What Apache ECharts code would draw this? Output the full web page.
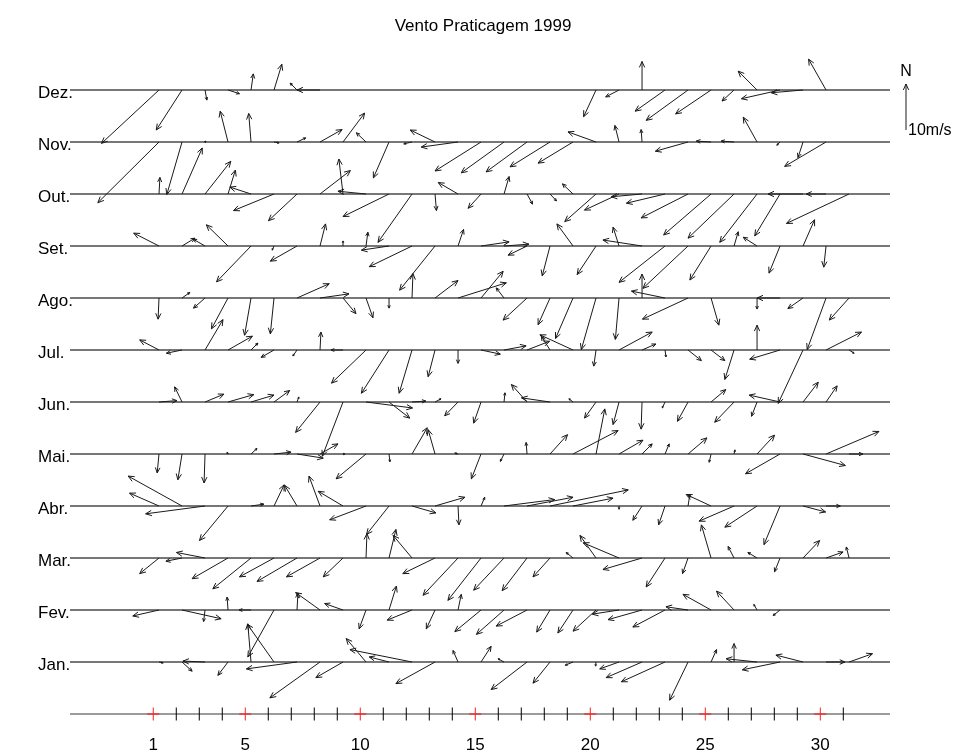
<!DOCTYPE html>
<html><head><meta charset="utf-8">
<script src="https://cdn.jsdelivr.net/npm/echarts@6/dist/echarts.min.js"></script>
<style>html,body{margin:0;padding:0;background:#fff}#c{width:966px;height:755px}</style>
</head><body><div id="c"></div>
<script>
// ---- labels ----
const monthLabels = ['Jan.','Fev.','Mar.','Abr.','Mai.','Jun.','Jul.','Ago.','Set.','Out.','Nov.','Dez.'];
const dayTicks = [1,2,3,4,5,6,7,8,9,10,11,12,13,14,15,16,17,18,19,20,21,22,23,24,25,26,27,28,29,30,31];
const labeledDays = [1,5,10,15,20,25,30];
const titleText = 'Vento Praticagem 1999';
const scaleLabel = '10m/s';
const scaleSpeed = 10; // m/s

// ---- wind components (m/s), u = eastward, v = northward, one value per day ----
const u_jan = [0.9,2.2,-4.8,-2.2,-0.7,-5.8,-11.0,-10.9,-5.9,-4.3,-4.3,-13.5,-8.5,-1.1,2.2,-1.3,-7.8,-3.7,-1.7,-0.1,-4.2,-7.8,-9.5,-4.0,1.2,0,-6.7,-8.2,-5.9,4.1,5.1];
const v_jan = [-0.2,-2.0,0.2,-2.9,8.3,8.2,-1.5,-7.8,-3.4,5.1,1.1,2.7,-4.7,2.5,3.4,0.7,-6.0,-4.6,-0.7,-0.9,-1.5,-3.4,-4.3,-8.3,2.7,4.0,0.7,-1.7,1.5,0,1.8];
const u_fev = [-5.7,8.5,-0.3,-0.2,-2.6,-5.7,0.2,-5.3,-4.0,-1.5,1.6,-5.4,-1.9,0.7,-5.7,-6.0,-6.7,-2.9,-3.3,-5.0,-5.8,-7.4,-7.0,-4.8,-6.1,-3.8,-0.7,-1.5];
const v_fev = [-1.3,-1.9,-2.5,2.8,0,-10.2,3.7,3.8,1.4,-4.1,5.2,-2.2,-4.1,3.4,-4.7,-5.3,-3.5,-4.8,-5.0,-4.6,-0.9,-2.1,-3.7,0.7,3.4,4.1,1.2,-1.2];
const u_mar = [-4.2,-3.5,-6.2,-7.8,-8.3,-7.5,-8.7,-7.3,-4.3,0.2,1.5,-4.1,-7.0,-7.6,-7.2,-6.6,-5.4,-3.7,-1.5,-3.5,-7.8,-8.5,-4.1,-1.2,-2.1,-1.3,-2.0,-1.2,3.6,3.7,-0.6];
const v_mar = [-3.4,-0.7,1.2,-4.5,-6.7,-4.1,-5.1,-4.1,-4.1,5.3,6.2,4.9,-3.4,-8.1,-9.2,-7.0,-7.1,-4.1,1.2,4.9,3.3,-2.5,-6.3,-3.4,7.2,2.5,1.2,-3.0,3.8,1.3,2.4];
const u_abr = [-6.4,-11.7,-12.9,-6.2,2.8,2.2,-2.7,-2.4,-5.4,-7.9,-4.9,5.2,6.5,0.2,0.8,11.0,10.0,17.0,8.7,null,0,-2.0,-1.4,0.4,-5.4,-7.6,-7.0,-3.5,4.9,3.1];
const v_abr = [2.8,6.5,-1.7,-7.5,0.4,4.6,4.5,6.5,3.2,-3.0,-6.2,-1.5,1.9,-4.1,1.9,1.4,1.9,3.5,1.7,null,-0.7,-3.1,-4.1,2.6,2.5,-3.3,-4.6,-8.4,-1.3,0];
const u_mai = [-0.4,-0.9,-0.2,-0.2,1.3,3.7,5.7,3.9,0.4,-6.5,0.2,3.3,-1.5,-0.7,-2.1,-0.8,-0.2,3.8,9.8,1.9,5.2,2.2,0.9,4.1,-0.4,0.2,3.8,-7.5,9.2,11.5,3.0];
const v_mai = [-4.1,-5.6,-6.3,0.4,1.2,0.4,-0.9,2.2,0,-5.4,-1.7,5.7,5.3,0.2,-5.4,-1.6,2.5,4.2,5.1,9.8,3.0,2.2,2.2,3.5,-1.8,0.9,4.1,-4.3,-2.5,4.9,0];
const u_jun = [3.9,-1.6,4.1,5.6,5.0,3.4,0.4,-5.3,-4.5,10.1,4.5,3.0,1.3,-2.9,-1.6,0.2,-3.4,-6.2,-0.9,-2.5,-1.3,-0.2,-0.6,-2.3,3.2,-4.2,-1.2,-6.7,3.3,2.4];
const v_jun = [0.3,3.3,1.7,1.6,1.5,2.5,1.1,-6.6,-11.8,-1.3,-3.5,0.2,0.7,-3.0,-4.6,2.0,3.8,0.9,0.7,-3.5,-4.9,-5.9,-1.3,-4.2,2.7,-4.4,-3.1,1.5,4.3,3.5];
const u_jul = [-4.2,-3.4,3.9,5.3,1.5,-2.8,-0.9,0.2,-2.6,-7.5,-6.0,-2.8,-1.5,0,4.2,4.8,4.9,-1.9,-7.2,-0.5,7.2,3.0,0.2,2.9,3.0,-2.0,0,-6.6,-5.4,7.7,1.1];
const v_jul = [2.2,-0.7,6.6,3.0,1.5,-1.6,-1.3,3.9,0,-7.2,-9.4,-9.4,-5.8,-2.9,-0.9,0.9,1.9,3.0,3.3,-3.5,3.9,1.3,-1.5,-2.3,-2.3,-6.4,5.4,-2.0,-11.6,3.9,-0.7];
const u_ago = [-0.2,1.7,-2.5,-3.6,-1.4,-0.8,7.0,6.3,2.8,1.5,0,0.2,5.0,10.5,4.8,-1.7,-5.2,-2.6,-3.8,-3.2,-0.8,0,-7.3,-9.9,1.7,null,0,-5.0,-3.3,-4.1,-4.3];
const v_ago = [-4.6,1.2,-2.2,-6.7,-8.1,-7.8,3.1,0.9,-3.4,-4.3,-2.2,5.3,3.8,3.3,5.8,2.2,-4.8,-5.8,-8.8,-11.2,-9.0,5.2,1.5,-4.6,-5.9,null,-2.4,0,-2.3,-11.2,-4.8];
const u_set = [-5.5,2.8,-2.6,-4.7,-7.5,-0.4,-5.8,1.2,0,0.4,-6.0,-9.3,-7.7,1.2,6.1,5.4,-4.1,-1.7,-3.5,-4.1,-1.3,-8.5,-10.0,-9.8,-4.6,0.9,-3.0,-2.4,2.5,-0.5];
const v_set = [2.8,1.7,1.5,4.6,-7.8,-0.9,-3.3,4.8,1.1,3.0,-0.9,-4.5,-9.6,3.6,0.9,0.4,-2.0,-6.5,4.8,-6.2,4.1,1.3,-7.9,-9.2,-7.4,3.1,1.9,-5.9,5.7,-4.6];
const u_out = [0.2,4.4,5.6,1.6,-4.6,-8.8,-6.2,6.6,-0.9,-6.1,-10.0,-7.4,0.3,-4.3,-2.8,1.1,1.2,1.4,-2.3,-6.8,-7.5,-6.7,-8.4,-10.2,-10.3,-10.0,-8.1,-5.5,-7.6,-4.3,-13.6];
const v_out = [3.6,10.0,7.1,5.2,1.5,-3.6,-5.8,5.1,7.6,0.6,-4.9,-10.5,-3.6,2.5,-3.1,3.8,-2.2,-1.5,2.2,-6.0,-3.5,-0.6,-2.0,-5.2,-8.9,-9.6,-10.5,-9.1,0,0,-6.4];
const u_nov = [-13.3,-3.3,0.2,-1.7,-0.5,1.1,1.9,4.8,4.7,-2.1,-3.4,-1.8,-5.4,-8.0,-10.0,-9.3,-8.9,-8.7,-7.6,-6.1,-0.9,-0.2,null,-7.1,-3.2,-2.8,-3.0,-0.7,-1.1,-9.0];
const v_nov = [-13.2,-11.4,0.2,6.7,6.2,-0.2,0.9,2.7,6.3,2.0,-7.8,-0.4,2.6,-1.1,-6.3,-6.7,-6.5,-5.4,-4.6,2.2,3.6,2.7,null,-2.0,0.2,0.2,5.4,-0.7,-3.4,-5.3];
const u_dez = [-12.5,-5.6,0.4,2.5,0.5,1.7,-1.5,-5.0,null,null,null,null,null,null,null,null,null,null,null,-2.7,-2.9,0,-6.5,-9.1,-7.7,-2.6,-4.1,-8.4,-6.9,-3.8,null];
const v_dez = [-11.6,-8.7,-2.2,-0.8,3.5,5.6,1.5,0,null,null,null,null,null,null,null,null,null,null,null,-5.8,-1.5,6.2,-4.6,-6.6,-5.2,-2.4,4.1,-1.9,-0.6,6.7,null];

const U = [u_jan,u_fev,u_mar,u_abr,u_mai,u_jun,u_jul,u_ago,u_set,u_out,u_nov,u_dez];
const V = [v_jan,v_fev,v_mar,v_abr,v_mai,v_jun,v_jul,v_ago,v_set,v_out,v_nov,v_dez];

// ---- layout / style constants ----
const X_MIN = -2.62, X_MAX = 33.03;      // day axis extent
const Y_MIN = 0, Y_MAX = 13.5;            // row 0 = day axis, rows 1..12 = months
const OBS_OFFSET = 0.25;                   // observation at 06h
const ROWS_PER_MS = 46 / 52 / 10;          // arrow scale: 10 m/s = 46/52 of a row spacing
const ARROW_COLOR = '#1a1a1a';
const FONT = '"Liberation Sans", Arial, sans-serif';
const FS = 17;

const windData = [];
U.forEach((us, m) => us.forEach((u, i) => {
  const v = V[m][i];
  if (u == null || v == null) return;
  windData.push([i + 1, m + 1, u, v]);
}));

function arrowShapes(x0, y0, x1, y1, color, width) {
  const dx = x1 - x0, dy = y1 - y0, len = Math.hypot(dx, dy);
  if (len < 0.6) return [];
  const h = Math.min(6.5, Math.max(2, len * 0.3));
  const a = Math.atan2(dy, dx);
  const a1 = a + Math.PI - 0.42, a2 = a + Math.PI + 0.42;
  const st = { stroke: color, lineWidth: width, fill: null };
  return [
    { type: 'line', shape: { x1: x0, y1: y0, x2: x1, y2: y1 }, style: st },
    { type: 'polyline', shape: { points: [[x1 + h * Math.cos(a1), y1 + h * Math.sin(a1)], [x1, y1], [x1 + h * Math.cos(a2), y1 + h * Math.sin(a2)]] }, style: st }
  ];
}

const chart = echarts.init(document.getElementById('c'), null, { renderer: 'canvas' });
chart.setOption({
  animation: false,
  backgroundColor: '#fff',
  title: { text: titleText, left: 'center', top: 13, textStyle: { fontSize: FS, fontWeight: 'normal', color: '#000', fontFamily: FONT } },
  grid: { left: 70, right: 76, top: 12, bottom: 41, containLabel: false },
  xAxis: { type: 'value', min: X_MIN, max: X_MAX, show: false },
  yAxis: { type: 'value', min: Y_MIN, max: Y_MAX, show: false },
  series: [
    { // month baselines + day axis line + month labels
      type: 'custom', silent: true, z: 1,
      data: [0, 1, 2, 3, 4, 5, 6, 7, 8, 9, 10, 11, 12].map(r => [r]),
      renderItem: (p, api) => {
        const r = api.value(0);
        const a = api.coord([X_MIN, r]), b = api.coord([X_MAX, r]);
        const ch = [{ type: 'line', shape: { x1: a[0], y1: a[1], x2: b[0], y2: b[1] },
          style: { stroke: r === 0 ? '#7a7a7a' : '#4a4a4a', lineWidth: r === 0 ? 1.5 : 1.3 } }];
        if (r >= 1) ch.push({ type: 'text', style: { text: monthLabels[r - 1], x: a[0] - 32, y: a[1] + 3, align: 'left', verticalAlign: 'middle', fontSize: FS, fill: '#000', fontFamily: FONT } });
        return { type: 'group', children: ch };
      }
    },
    { // day ticks + labels
      type: 'custom', silent: true, z: 2,
      data: dayTicks.map(d => [d]),
      renderItem: (p, api) => {
        const d = api.value(0);
        const c = api.coord([d, 0]);
        const red = labeledDays.indexOf(d) >= 0;
        const col = red ? '#ff2020' : '#000';
        const ch = [{ type: 'line', shape: { x1: c[0], y1: c[1] - 6.5, x2: c[0], y2: c[1] + 6.5 }, style: { stroke: col, lineWidth: 1 } }];
        if (red) {
          ch.push({ type: 'line', shape: { x1: c[0] - 6, y1: c[1], x2: c[0] + 6, y2: c[1] }, style: { stroke: col, lineWidth: 1.2 } });
          ch.push({ type: 'text', style: { text: String(d), x: c[0], y: c[1] + 31, align: 'center', verticalAlign: 'middle', fontSize: FS, fill: '#000', fontFamily: FONT } });
        }
        return { type: 'group', children: ch };
      }
    },
    { // wind arrows
      type: 'custom', silent: true, z: 3,
      data: windData,
      renderItem: (p, api) => {
        const o = api.coord([api.value(0) + OBS_OFFSET, api.value(1)]);
        const s = api.size([0, 1])[1] * ROWS_PER_MS;
        const t = [o[0] + api.value(2) * s, o[1] - api.value(3) * s];
        return { type: 'group', children: arrowShapes(o[0], o[1], t[0], t[1], ARROW_COLOR, 1) };
      }
    },
    { // scale key (N arrow, 10 m/s)
      type: 'custom', silent: true, z: 3,
      data: [[scaleSpeed]],
      renderItem: (p, api) => {
        const len = api.size([0, 1])[1] * ROWS_PER_MS * api.value(0);
        const x = 906, y = 130;
        return { type: 'group', children: [
          ...arrowShapes(x, y, x, y - len, ARROW_COLOR, 1),
          { type: 'text', style: { text: 'N', x: x, y: y - len - 12, align: 'center', verticalAlign: 'middle', fontSize: 16, fill: '#000', fontFamily: FONT } },
          { type: 'text', style: { text: scaleLabel, x: x + 2, y: y + 1, align: 'left', verticalAlign: 'middle', fontSize: 16, fill: '#000', fontFamily: FONT } }
        ] };
      }
    }
  ]
});
</script></body></html>
